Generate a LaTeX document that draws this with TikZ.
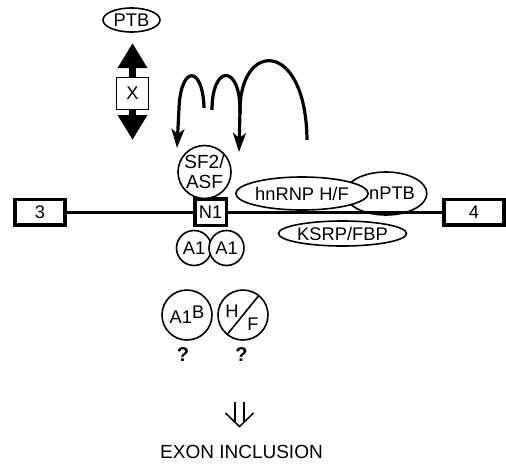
\documentclass[tikz,border=0pt]{standalone}
\usepackage{fontspec}
\setmainfont{Liberation Sans}
\usetikzlibrary{shapes.geometric,arrows.meta}
\begin{document}
\begin{tikzpicture}[x=1pt,y=-1pt,
  lbl/.style={font=\fontsize{18.3}{20}\selectfont},
  thinc/.style={draw, line width=1.6pt, circle, inner sep=0pt, fill=white, lbl},
  ell/.style={draw, line width=1.6pt, ellipse, inner sep=0pt, fill=white, lbl},
  exonbox/.style={draw, line width=3.5pt, fill=white, inner sep=0pt, lbl},
  loopline/.style={line width=3.2pt},
  loophead/.style={line width=3.2pt, -{Stealth[length=19pt,width=13pt,inset=5pt]}},
  bigarrow/.style={line width=7.5pt, -{Triangle[length=25pt,width=28pt]}},
  qmark/.style={font=\fontsize{20}{20}\selectfont\bfseries},
]
\useasboundingbox (0,0) rectangle (506,466);

% exons
\node[exonbox, minimum width=50pt, minimum height=25.5pt] (e3) at (40,212) {3};
\node[exonbox, minimum width=60pt, minimum height=25.5pt] (e4) at (474,212) {4};

% PTB and X
\node[ell, minimum width=57pt, minimum height=24pt] (ptb) at (131.5,20) {PTB};
\node[draw, line width=1.5pt, minimum size=32pt, inner sep=0pt, fill=white, lbl] (xbox) at (132.5,93.5) {X};
\coordinate (uptip) at (132.5,43);
\coordinate (downtip) at (132.5,140);
\draw[bigarrow] (xbox.north) -- (uptip);
\draw[bigarrow] (xbox.south) -- (downtip);

% proteins on the right
\node[ell, minimum width=72pt, minimum height=43pt] (nptb) at (386,193.5) {\hspace*{12pt}nPTB};
\node[ell, minimum width=112pt, minimum height=33pt] (hnrnp) at (302,193.5) {hnRNP H/F};
\node[ell, minimum width=119pt, minimum height=25pt] (ksrp) at (342.5,233.5) {KSRP/FBP};

% intron line
\draw[line width=3pt] (e3.east) -- (e4.west);

% N1 and its proteins
\node[exonbox, minimum width=31.5pt, minimum height=26.5pt] (n1) at (210.5,212) {N1};
\node[thinc, minimum size=53pt, align=center, font=\fontsize{19}{20}\selectfont] (sf2) at (204.5,172) {SF2/\\ASF};
\node[thinc, minimum size=35pt] (a1l) at (194,248) {A1};
\node[thinc, minimum size=35pt] (a1r) at (226.5,248) {A1};

% loops
\coordinate (l1s) at (204,108);
\coordinate (l1t) at (177,148);
\coordinate (l2s) at (212,110);
\coordinate (l2t) at (239,152);
\coordinate (l3s) at (240,114);
\coordinate (l3e) at (307,140);
\draw[loophead] (l1s) .. controls (203,66) and (181,64) .. (179,108) -- (l1t);
\draw[loophead] (l2s) .. controls (212,64) and (240,64) .. (240,110) -- (l2t);
\draw[loopline] (l3s) .. controls (238,40) and (306,38) .. (l3e);

% A1B and H/F
\node[thinc, minimum size=50pt] (a1b) at (187,315) {A1\raisebox{5pt}{B}};
\node[draw, line width=1.6pt, circle, minimum size=50pt, inner sep=0pt] (hf) at (243,315) {};
\node[lbl, inner sep=0pt] (hfh) at (232,311) {H};
\node[lbl, inner sep=0pt] (hff) at (253,324) {F};
\draw[line width=1.6pt] (hf.231) -- (hf.51);

\node[qmark] (q1) at (183,355) {?};
\node[qmark] (q2) at (241.5,355) {?};

% outcome arrow
\coordinate (sl) at (235,401.5);
\coordinate (sr) at (244,401.5);
\coordinate (dtip) at (239.5,426.5);
\draw[line width=1.5pt] (sl) -- (235,422.5);
\draw[line width=1.5pt] (sr) -- (244,422);
\draw[line width=1.5pt, line join=miter] (225.5,413) -- (dtip) -- (253.5,413);

\node[font=\fontsize{19}{19}\selectfont] (incl) at (241.5,451.5) {EXON INCLUSION};
\end{tikzpicture}
\end{document}
